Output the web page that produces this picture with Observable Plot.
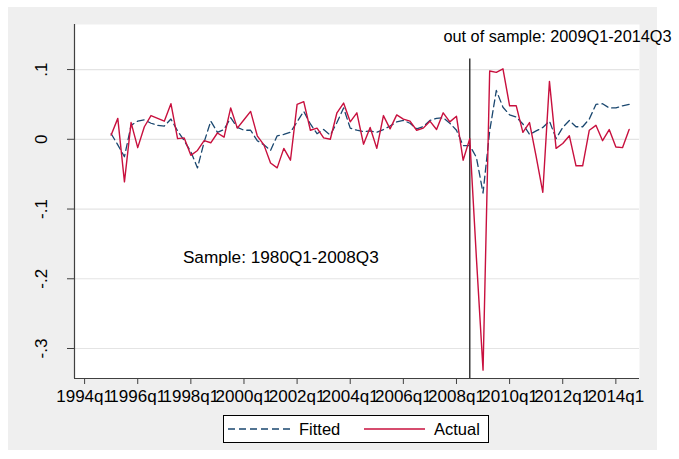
<!DOCTYPE html>
<html>
<head>
<meta charset="utf-8">
<script src="https://cdn.jsdelivr.net/npm/d3@7"></script>
<script src="https://cdn.jsdelivr.net/npm/@observablehq/plot@0.6"></script>
<style>
  html, body { margin: 0; padding: 0; background: #ffffff; }
  body { width: 679px; height: 459px; position: relative; overflow: hidden;
         font-family: "Liberation Sans", Arial, sans-serif; }
  #bg { position: absolute; left: 8px; top: 7px; width: 649px; height: 443px; background: #efefef; }
  #chart { position: absolute; left: 0; top: 0; }
  #legend { position: absolute; left: 223px; top: 415px; width: 266px; height: 28px;
            border: 1px solid #000; background: #fff; box-sizing: border-box; }
</style>
</head>
<body>
<div id="bg"></div>
<div id="chart"></div>
<div id="legend"></div>
<script>
// Quarterly series, 1995q1 .. 2014q3 (79 quarters)
const startYear = 1995;
const actual = [
  0.006, 0.030, -0.061, 0.024, -0.012, 0.018, 0.034, 0.030, 0.026, 0.051,
  0.001, 0.002, -0.023, -0.016, -0.002, -0.005, 0.009, 0.003, 0.045, 0.016,
  0.028, 0.040, 0.005, -0.008, -0.034, -0.041, -0.013, -0.030, 0.050, 0.054,
  0.013, 0.016, 0.002, 0.000, 0.038, 0.052, 0.025, 0.038, -0.007, 0.017,
  -0.013, 0.034, 0.015, 0.035, 0.029, 0.026, 0.013, 0.016, 0.026, 0.014,
  0.038, 0.025, 0.033, -0.030, 0.001, -0.170, -0.331, 0.098, 0.096, 0.101,
  0.048, 0.048, 0.010, 0.024, -0.025, -0.076, 0.083, -0.013, -0.006, 0.005,
  -0.038, -0.038, 0.013, 0.020, -0.002, 0.014, -0.011, -0.012, 0.014
];
const fitted = [
  0.008, -0.008, -0.025, 0.020, 0.026, 0.028, 0.023, 0.020, 0.019, 0.029,
  0.012, -0.002, -0.018, -0.041, -0.004, 0.026, 0.010, 0.014, 0.031, 0.017,
  0.013, 0.013, -0.002, -0.008, -0.016, 0.005, 0.007, 0.010, 0.025, 0.040,
  0.022, 0.008, 0.014, 0.006, 0.024, 0.045, 0.016, 0.013, 0.011, 0.012,
  0.010, 0.014, 0.019, 0.025, 0.027, 0.023, 0.015, 0.018, 0.027, 0.030,
  0.031, 0.023, 0.013, -0.009, -0.009, -0.026, -0.077, 0.012, 0.070, 0.046,
  0.035, 0.032, 0.022, 0.007, 0.012, 0.017, 0.026, 0.001, 0.017, 0.027,
  0.018, 0.018, 0.029, 0.050, 0.051, 0.045, 0.045, 0.048, 0.050
];
const xTicks = [1994, 1996, 1998, 2000, 2002, 2004, 2006, 2008, 2010, 2012, 2014];
const xTickLabels = ["1994q1","1996q1","1998q1","2000q1","2002q1","2004q1","2006q1","2008q1","2010q1","2012q1","2014q1"];
const yTicks = [0.1, 0, -0.1, -0.2, -0.3];
const yTickLabels = [".1", "0", "-.1", "-.2", "-.3"];
const breakQuarter = 2008.5; // 2008q3
const annotations = [
  {x: 1997.70, y: -0.169, label: "Sample: 1980Q1-2008Q3", size: 17.2},
  {x: 2007.51, y: 0.147, label: "out of sample: 2009Q1-2014Q3", size: 16.3}
];
const legendItems = [
  {label: "Fitted", color: "#1A476F", dash: "7,4"},
  {label: "Actual", color: "#C8103E", dash: null}
];

const rows = actual.map((v, i) => ({t: startYear + i / 4, actual: v, fitted: fitted[i]}));
const xDomain = [1993.62, 2014.89];
const yDomain = [-0.343, 0.1646];
const font = '"Liberation Sans", Arial, sans-serif';

const chart = Plot.plot({
  width: 679,
  height: 410,
  marginLeft: 74,
  marginRight: 40,
  marginTop: 24,
  marginBottom: 32,
  x: {domain: xDomain},
  y: {domain: yDomain},
  style: {background: "transparent", fontFamily: font, fontSize: "17px", color: "#000", overflow: "visible"},
  marks: [
    Plot.frame({fill: "#ffffff", stroke: null}),
    Plot.gridY(yTicks, {stroke: "#e4e4e4", strokeOpacity: 1, strokeWidth: 1.2}),
    Plot.ruleX([breakQuarter], {y1: yDomain[0], y2: 0.115, stroke: "#3a3a3a", strokeWidth: 1.5}),
    Plot.line(rows, {x: "t", y: "fitted", stroke: legendItems[0].color, strokeWidth: 1.3, strokeDasharray: legendItems[0].dash}),
    Plot.line(rows, {x: "t", y: "actual", stroke: legendItems[1].color, strokeWidth: 1.4}),
    Plot.ruleX([xDomain[0]], {stroke: "#404040", strokeWidth: 1.2}),
    Plot.ruleY([yDomain[0]], {stroke: "#404040", strokeWidth: 1.2}),
    Plot.axisX({ticks: xTicks, tickFormat: (d) => xTickLabels[xTicks.indexOf(d)], tickSize: 6, tickPadding: 5,
                label: null, stroke: "#404040", fill: "#000", fontSize: 17}),
    Plot.axisY({ticks: yTicks, tickFormat: () => "", tickSize: 7, label: null, stroke: "#404040"}),
    Plot.text(yTicks, {y: (d) => d, text: (d, i) => yTickLabels[i], frameAnchor: "left", dx: -33,
                       rotate: -90, fontSize: 17, fill: "#000", textAnchor: "middle", lineAnchor: "middle"}),
    Plot.text(annotations, {x: "x", y: "y", text: "label", textAnchor: "start", lineAnchor: "middle",
                            fontSize: (d) => d.size, fill: "#000"})
  ]
});
document.getElementById("chart").appendChild(chart);

// Legend (HTML/SVG below the plot region)
const ns = "http://www.w3.org/2000/svg";
const lsvg = document.createElementNS(ns, "svg");
lsvg.setAttribute("width", 264);
lsvg.setAttribute("height", 26);
lsvg.style.display = "block";
const positions = [{x0: 4, x1: 66, tx: 75}, {x0: 140, x1: 201, tx: 210}];
legendItems.forEach((item, i) => {
  const p = positions[i];
  const ln = document.createElementNS(ns, "line");
  ln.setAttribute("x1", p.x0); ln.setAttribute("x2", p.x1);
  ln.setAttribute("y1", 13); ln.setAttribute("y2", 13);
  ln.setAttribute("stroke", item.color);
  ln.setAttribute("stroke-width", 1.3);
  if (item.dash) ln.setAttribute("stroke-dasharray", item.dash);
  lsvg.appendChild(ln);
  const tx = document.createElementNS(ns, "text");
  tx.setAttribute("x", p.tx); tx.setAttribute("y", 19);
  tx.setAttribute("font-size", 16.5);
  tx.setAttribute("font-family", font);
  tx.textContent = item.label;
  lsvg.appendChild(tx);
});
document.getElementById("legend").appendChild(lsvg);
</script>
</body>
</html>
